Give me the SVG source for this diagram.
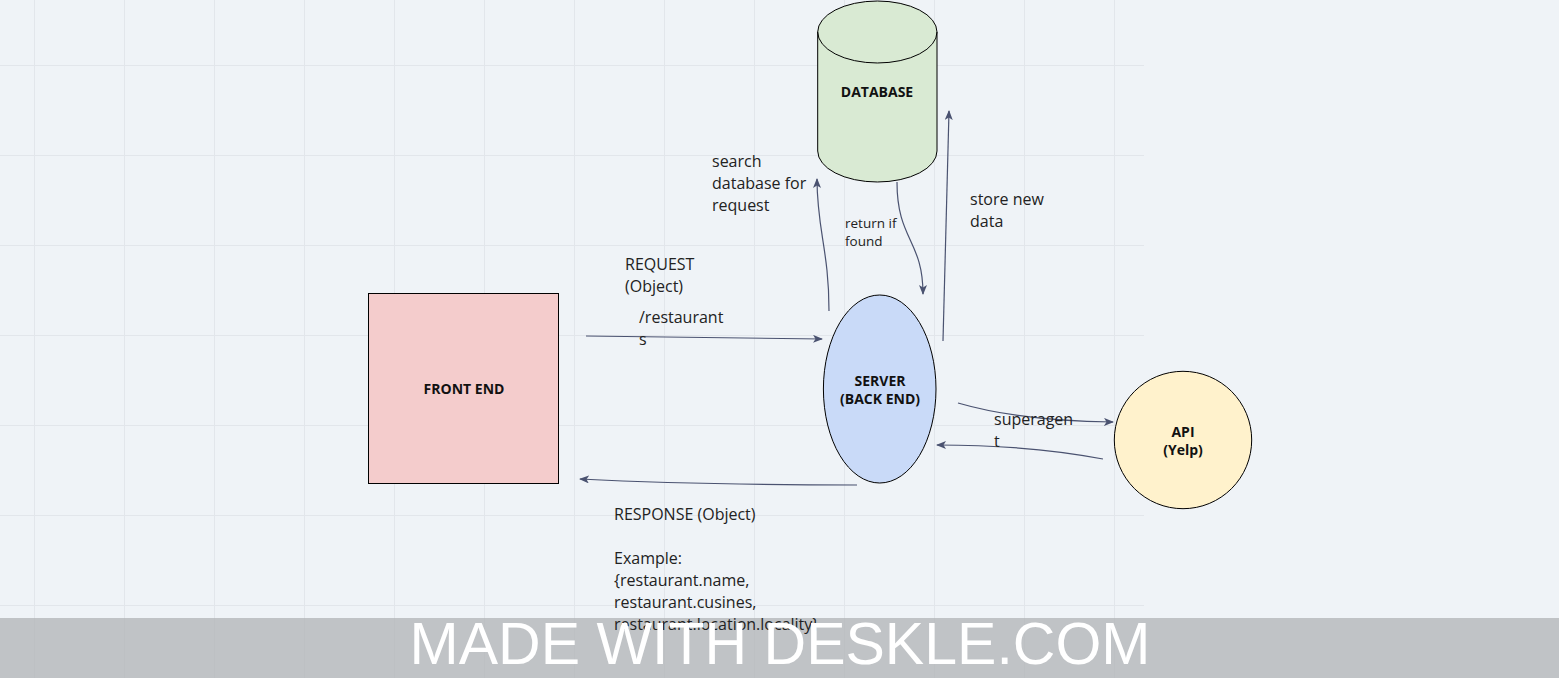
<svg xmlns="http://www.w3.org/2000/svg" width="1559" height="678" viewBox="0 0 1559 678">
<style>
.grid line{stroke:#e2e6eb;stroke-width:1}
.node{stroke:#000;stroke-width:1}
.nlabel{font-family:"Open Sans","Noto Sans",sans-serif;font-weight:bold;font-size:14px;fill:#111;text-anchor:middle}
.conn path{fill:none;stroke:#4a5270;stroke-width:1.2;marker-end:url(#ah)}
.lbl{font-family:"Open Sans","Noto Sans",sans-serif;font-size:16px;fill:#222}
.small{font-size:13.5px}
</style>
<defs>
<marker id="ah" viewBox="0 0 10 8" refX="9" refY="4" markerWidth="10" markerHeight="8" markerUnits="userSpaceOnUse" orient="auto">
<path d="M0,0 L10,4 L0,8 L2.5,4 z" fill="#4a5270"/>
</marker>
</defs>
<rect x="0" y="0" width="1559" height="678" fill="#eff3f7"/>
<g class="grid">
<line x1="34.5" y1="0" x2="34.5" y2="678"/>
<line x1="124.5" y1="0" x2="124.5" y2="678"/>
<line x1="214.5" y1="0" x2="214.5" y2="678"/>
<line x1="304.5" y1="0" x2="304.5" y2="678"/>
<line x1="394.5" y1="0" x2="394.5" y2="678"/>
<line x1="484.5" y1="0" x2="484.5" y2="678"/>
<line x1="574.5" y1="0" x2="574.5" y2="678"/>
<line x1="664.5" y1="0" x2="664.5" y2="678"/>
<line x1="754.5" y1="0" x2="754.5" y2="678"/>
<line x1="844.5" y1="0" x2="844.5" y2="678"/>
<line x1="934.5" y1="0" x2="934.5" y2="678"/>
<line x1="1024.5" y1="0" x2="1024.5" y2="678"/>
<line x1="1114.5" y1="0" x2="1114.5" y2="678"/>
<line x1="0" y1="65.5" x2="1144" y2="65.5"/>
<line x1="0" y1="155.5" x2="1144" y2="155.5"/>
<line x1="0" y1="245.5" x2="1144" y2="245.5"/>
<line x1="0" y1="335.5" x2="1144" y2="335.5"/>
<line x1="0" y1="425.5" x2="1144" y2="425.5"/>
<line x1="0" y1="515.5" x2="1144" y2="515.5"/>
<line x1="0" y1="605.5" x2="1144" y2="605.5"/>
</g>
<rect id="banner-bg" x="0" y="618" width="1559" height="60" fill="#b0b3b6" fill-opacity="0.75"/>
<g id="front-end">
<rect class="node" x="368.5" y="293.5" width="190" height="190" fill="#f4cccc"/>
<text class="nlabel" x="464" y="394">FRONT END</text>
</g>
<g id="server">
<ellipse class="node" cx="879.7" cy="389" rx="56.3" ry="94" fill="#c9daf8"/>
<text class="nlabel" x="880" y="386">SERVER</text>
<text class="nlabel" x="880" y="404">(BACK END)</text>
</g>
<g id="database">
<path class="node" d="M817.7,32 L817.7,151 A59.6,31 0 0 0 937,151 L937,32 A59.6,31 0 0 0 817.7,32 Z" fill="#d9ead3"/>
<path class="node" d="M817.7,32 A59.6,31 0 0 0 937,32" fill="none"/>
<text class="nlabel" x="877" y="97">DATABASE</text>
</g>
<g id="api">
<circle class="node" cx="1183" cy="440" r="68.7" fill="#fff2cc"/>
<text class="nlabel" x="1183" y="437">API</text>
<text class="nlabel" x="1183" y="455">(Yelp)</text>
</g>
<g class="conn" id="connectors">
<path d="M586,336 Q700,337 822,339"/>
<path d="M857,485 Q700,485 580,479"/>
<path d="M829,311 C829,250 817,230 817,179"/>
<path d="M897,182 C897,240 923,240 923,294"/>
<path d="M943,341 Q946,230 949,111"/>
<path d="M958,403 Q1020,421 1113,422"/>
<path d="M1103,459 Q1030,445 937,445"/>
</g>
<g id="labels">
<text class="lbl" x="712" y="167">search</text>
<text class="lbl" x="712" y="189">database for</text>
<text class="lbl" x="712" y="211">request</text>
<text class="lbl small" x="845" y="228">return if</text>
<text class="lbl small" x="845" y="246">found</text>
<text class="lbl" x="970" y="205">store new</text>
<text class="lbl" x="970" y="227">data</text>
<text class="lbl" x="625" y="270">REQUEST</text>
<text class="lbl" x="625" y="292">(Object)</text>
<text class="lbl" x="639" y="323">/restaurant</text>
<text class="lbl" x="639" y="345">s</text>
<text class="lbl" x="994" y="425">superagen</text>
<text class="lbl" x="994" y="447">t</text>
<text class="lbl" x="614" y="520">RESPONSE (Object)</text>
<text class="lbl" x="614" y="564">Example:</text>
<text class="lbl" x="614" y="586">{restaurant.name,</text>
<text class="lbl" x="614" y="608">restaurant.cusines,</text>
<text class="lbl" x="614" y="630">restaurant.location.locality}</text>
</g>
<text x="780" y="664" font-family="Liberation Sans, Arial, sans-serif" font-size="59" fill="#ffffff" text-anchor="middle">MADE WITH DESKLE.COM</text>
</svg>
